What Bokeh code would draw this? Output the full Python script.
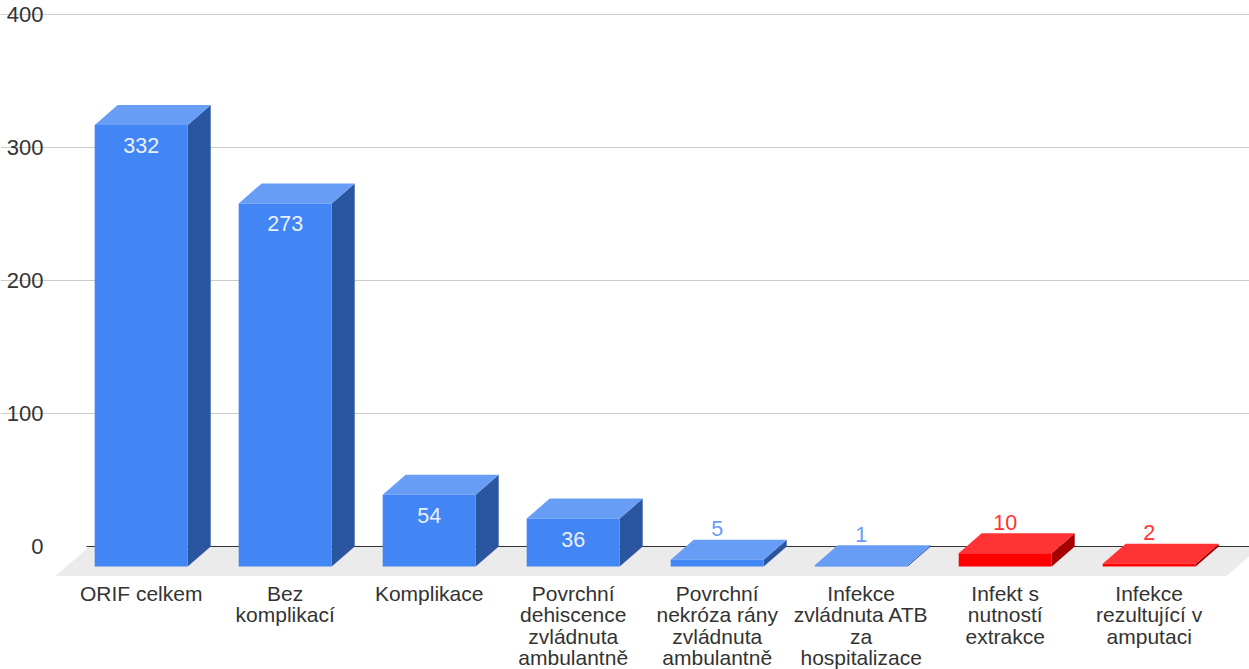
from bokeh.plotting import figure
from bokeh.embed import file_html
from bokeh.resources import INLINE
from bokeh.models import ColumnDataSource, FixedTicker, LinearAxis, Range1d, Grid
from bokeh.core.properties import value

categories = ["ORIF celkem", "Bez\nkomplikací", "Komplikace",
              "Povrchní\ndehiscence\nzvládnuta\nambulantně",
              "Povrchní\nnekróza rány\nzvládnuta\nambulantně",
              "Infekce\nzvládnuta ATB\nza\nhospitalizace",
              "Infekt s\nnutností\nextrakce",
              "Infekce\nrezultující v\namputaci"]
values = [332, 273, 54, 36, 5, 1, 10, 2]
y_ticks = [0, 100, 200, 300, 400]
is_red = [False, False, False, False, False, False, True, True]

BLUE = ("#4285f4", "#689df6", "#2a55a0")
RED = ("#ff0000", "#ff3333", "#a60000")
LABEL_BLUE = "#689df6"
LABEL_RED = "#ff3333"
TEXT = "#333333"
FONT = "Liberation Sans"
FS = "21.5px"

W, H = 1249, 669
PX_X = 144.0      # pixels per category
PX_Y = 1.33       # pixels per value unit
X0 = 140.7        # pixel centre of first category
Y0 = 546.0        # pixel row of value 0
BAR_W = 93 / PX_X
DX = 23 / PX_X
DY = 20 / PX_Y
x_of = lambda px: (px - X0) / PX_X
y_of = lambda py: (Y0 - py) / PX_Y

p = figure(width=W, height=H, output_backend="svg", toolbar_location=None,
           x_range=Range1d(x_of(0), x_of(W)), y_range=Range1d(y_of(H), y_of(0)),
           x_axis_type=None, y_axis_type=None,
           min_border=0, min_border_left=0, min_border_right=0, min_border_top=0, min_border_bottom=0,
           outline_line_color=None, background_fill_color="white")

# grid
grid = Grid(dimension=1, ticker=FixedTicker(ticks=[t for t in y_ticks if t != 0]),
            grid_line_color="#cccccc", grid_line_width=1, bounds=(x_of(86), x_of(W)))
p.add_layout(grid)

# floor
floor_y = y_of(575.5)
floor_dx = (Y0 - 575.5) / -PX_Y / DY * DX
p.patch([x_of(55), x_of(55) + floor_dx, x_of(1226) + floor_dx, x_of(1226)],
        [floor_y, 0, 0, floor_y], fill_color="#ebebeb", line_color=None)
p.segment([x_of(86)], [0], [x_of(W)], [0], line_color="#333333", line_width=1)

# bars
front, top, side = dict(xs=[], ys=[], c=[]), dict(xs=[], ys=[], c=[]), dict(xs=[], ys=[], c=[])
for i, (v, red) in enumerate(zip(values, is_red)):
    l, r = i - BAR_W / 2, i + BAR_W / 2
    cols = RED if red else BLUE
    front["xs"].append([l, r, r, l]); front["ys"].append([-DY, -DY, v - DY, v - DY]); front["c"].append(cols[0])
    top["xs"].append([l, r, r + DX, l + DX]); top["ys"].append([v - DY, v - DY, v, v]); top["c"].append(cols[1])
    side["xs"].append([r, r + DX, r + DX, r]); side["ys"].append([-DY, 0, v, v - DY]); side["c"].append(cols[2])
for d in (side, top, front):
    p.patches("xs", "ys", source=ColumnDataSource(d), fill_color="c", line_color=None)

# value labels
lx, ly, lt, lc = [], [], [], []
for i, (v, red) in enumerate(zip(values, is_red)):
    lx.append(i)
    lt.append(str(v))
    if v >= 20:
        ly.append(v - DY - 20.5 / PX_Y); lc.append("#e8f0fe")
    else:
        ly.append(v + 11 / PX_Y); lc.append(LABEL_RED if red else LABEL_BLUE)
p.text(lx, ly, text=lt, text_color=lc, text_align="center", text_baseline="middle",
       text_font=value(FONT), text_font_size=FS)

# axes
yaxis = LinearAxis(fixed_location=x_of(55), ticker=FixedTicker(ticks=y_ticks),
                   axis_line_color=None, major_tick_line_color=None, minor_tick_line_color=None,
                   major_label_standoff=6, major_label_text_color=TEXT,
                   major_label_text_font=FONT, major_label_text_font_size="22px")
p.add_layout(yaxis, "left")
xaxis = LinearAxis(fixed_location=floor_y, ticker=FixedTicker(ticks=list(range(len(categories)))),
                   major_label_overrides={i: c for i, c in enumerate(categories)},
                   axis_line_color=None, major_tick_line_color=None, minor_tick_line_color=None,
                   major_label_standoff=0, major_label_text_color=TEXT,
                   major_label_text_font=FONT, major_label_text_font_size="21px",
                   major_label_text_line_height=0.93)
p.add_layout(xaxis, "below")

open("out.html", "w").write(file_html(p, INLINE))
